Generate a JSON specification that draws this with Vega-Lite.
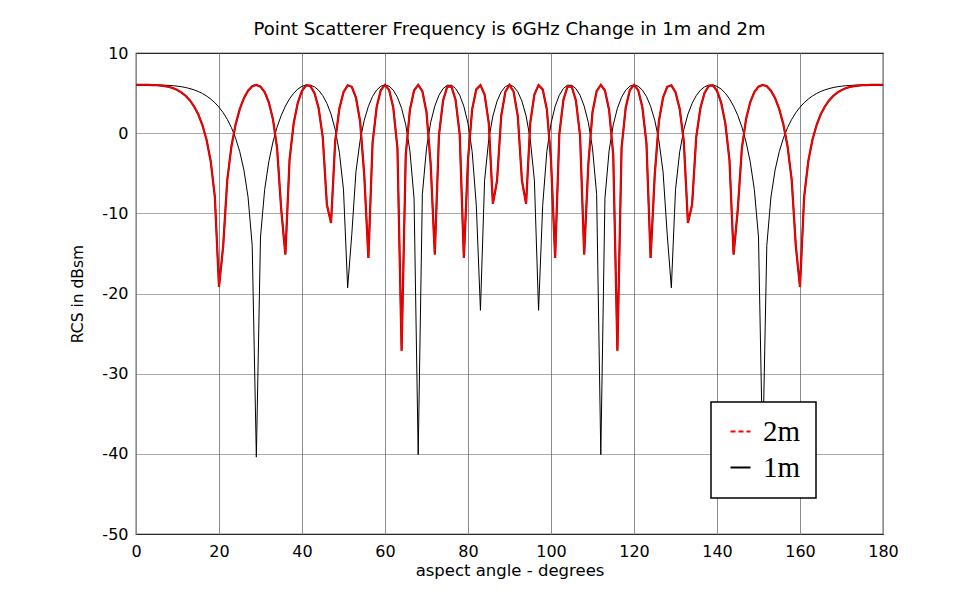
{
  "$schema": "https://vega.github.io/schema/vega-lite/v6.json",
  "width": 747,
  "height": 481,
  "autosize": {"type": "none"},
  "padding": {"left": 136, "top": 53, "right": 78, "bottom": 68},
  "background": "#ffffff",
  "title": {"text": "Point Scatterer Frequency is 6GHz Change in 1m and 2m", "frame": "group", "font": "DejaVu Sans", "fontSize": 18, "fontWeight": "normal", "color": "#000000", "anchor": "middle", "offset": 6},
  "config": {
    "view": {"stroke": "#000000", "strokeWidth": 1.2},
    "font": "DejaVu Sans",
    "axis": {"labelFont": "DejaVu Sans", "titleFont": "DejaVu Sans", "labelColor": "#000000", "titleColor": "#000000", "titleFontWeight": "normal", "ticks": false, "tickSize": 0, "domain": false, "grid": true, "labelFlush": false, "labelOverlap": false}
  },
  "datasets": {
    "rcs": [
      {"a":0,"m1":6.02,"m2":6.02},{"a":1,"m1":6.02,"m2":6.02},{"a":2,"m1":6.02,"m2":6.02},{"a":3,"m1":6.02,"m2":6.02},{"a":4,"m1":6.01,"m2":6.00},
      {"a":5,"m1":6.01,"m2":5.98},{"a":6,"m1":6.00,"m2":5.94},{"a":7,"m1":5.98,"m2":5.87},{"a":8,"m1":5.95,"m2":5.76},{"a":9,"m1":5.92,"m2":5.60},
      {"a":10,"m1":5.86,"m2":5.37},{"a":11,"m1":5.79,"m2":5.06},{"a":12,"m1":5.69,"m2":4.64},{"a":13,"m1":5.56,"m2":4.08},{"a":14,"m1":5.40,"m2":3.33},
      {"a":15,"m1":5.20,"m2":2.35},{"a":16,"m1":4.95,"m2":1.02},{"a":17,"m1":4.64,"m2":-0.82},{"a":18,"m1":4.26,"m2":-3.50},{"a":19,"m1":3.80,"m2":-7.94},
      {"a":20,"m1":3.24,"m2":-19.18},{"a":21,"m1":2.56,"m2":-14.12},{"a":22,"m1":1.72,"m2":-5.81},{"a":23,"m1":0.69,"m2":-1.63},{"a":24,"m1":-0.62,"m2":1.08},
      {"a":25,"m1":-2.31,"m2":3.00},{"a":26,"m1":-4.59,"m2":4.37},{"a":27,"m1":-7.97,"m2":5.30},{"a":28,"m1":-14.01,"m2":5.85},{"a":29,"m1":-40.41,"m2":6.02},
      {"a":30,"m1":-12.95,"m2":5.80},{"a":31,"m1":-7.05,"m2":5.12},{"a":32,"m1":-3.55,"m2":3.86},{"a":33,"m1":-1.10,"m2":1.75},{"a":34,"m1":0.77,"m2":-1.86},
      {"a":35,"m1":2.22,"m2":-9.56},{"a":36,"m1":3.37,"m2":-15.14},{"a":37,"m1":4.29,"m2":-3.32},{"a":38,"m1":4.99,"m2":1.25},{"a":39,"m1":5.50,"m2":3.82},
      {"a":40,"m1":5.84,"m2":5.29},{"a":41,"m1":6.01,"m2":5.96},{"a":42,"m1":5.99,"m2":5.89},{"a":43,"m1":5.78,"m2":5.03},{"a":44,"m1":5.36,"m2":3.14},
      {"a":45,"m1":4.69,"m2":-0.48},{"a":46,"m1":3.72,"m2":-8.92},{"a":47,"m1":2.37,"m2":-11.20},{"a":48,"m1":0.45,"m2":-1.00},{"a":49,"m1":-2.37,"m2":3.05},
      {"a":50,"m1":-7.07,"m2":5.12},{"a":51,"m1":-19.29,"m2":5.97},{"a":52,"m1":-12.60,"m2":5.78},{"a":53,"m1":-4.82,"m2":4.45},{"a":54,"m1":-0.90,"m2":1.49},
      {"a":55,"m1":1.61,"m2":-5.20},{"a":56,"m1":3.35,"m2":-15.58},{"a":57,"m1":4.58,"m2":-1.23},{"a":58,"m1":5.39,"m2":3.29},{"a":59,"m1":5.86,"m2":5.38},
      {"a":60,"m1":6.02,"m2":6.02},{"a":61,"m1":5.86,"m2":5.37},{"a":62,"m1":5.37,"m2":3.17},{"a":63,"m1":4.48,"m2":-1.88},{"a":64,"m1":3.11,"m2":-27.14},
      {"a":65,"m1":1.04,"m2":-2.72},{"a":66,"m1":-2.19,"m2":2.90},{"a":67,"m1":-8.12,"m2":5.32},{"a":68,"m1":-40.10,"m2":6.02},{"a":69,"m1":-7.64,"m2":5.24},
      {"a":70,"m1":-1.88,"m2":2.62},{"a":71,"m1":1.32,"m2":-3.81},{"a":72,"m1":3.37,"m2":-15.14},{"a":73,"m1":4.73,"m2":-0.27},{"a":74,"m1":5.56,"m2":4.08},
      {"a":75,"m1":5.97,"m2":5.80},{"a":76,"m1":5.98,"m2":5.84},{"a":77,"m1":5.58,"m2":4.17},{"a":78,"m1":4.74,"m2":-0.16},{"a":79,"m1":3.35,"m2":-15.58},
      {"a":80,"m1":1.20,"m2":-3.32},{"a":81,"m1":-2.28,"m2":2.97},{"a":82,"m1":-9.01,"m2":5.46},{"a":83,"m1":-22.10,"m2":5.99},{"a":84,"m1":-5.87,"m2":4.82},
      {"a":85,"m1":-0.77,"m2":1.30},{"a":86,"m1":2.14,"m2":-8.82},{"a":87,"m1":3.99,"m2":-5.93},{"a":88,"m1":5.16,"m2":2.14},{"a":89,"m1":5.81,"m2":5.16},
      {"a":90,"m1":6.02,"m2":6.02},
      {"a":91,"m1":5.81,"m2":5.16},{"a":92,"m1":5.16,"m2":2.14},{"a":93,"m1":3.99,"m2":-5.93},{"a":94,"m1":2.14,"m2":-8.82},{"a":95,"m1":-0.77,"m2":1.30},
      {"a":96,"m1":-5.87,"m2":4.82},{"a":97,"m1":-22.10,"m2":5.99},{"a":98,"m1":-9.01,"m2":5.46},{"a":99,"m1":-2.28,"m2":2.97},{"a":100,"m1":1.20,"m2":-3.32},
      {"a":101,"m1":3.35,"m2":-15.58},{"a":102,"m1":4.74,"m2":-0.16},{"a":103,"m1":5.58,"m2":4.17},{"a":104,"m1":5.98,"m2":5.84},{"a":105,"m1":5.97,"m2":5.80},
      {"a":106,"m1":5.56,"m2":4.08},{"a":107,"m1":4.73,"m2":-0.27},{"a":108,"m1":3.37,"m2":-15.14},{"a":109,"m1":1.32,"m2":-3.81},{"a":110,"m1":-1.88,"m2":2.62},
      {"a":111,"m1":-7.64,"m2":5.24},{"a":112,"m1":-40.10,"m2":6.02},{"a":113,"m1":-8.12,"m2":5.32},{"a":114,"m1":-2.19,"m2":2.90},{"a":115,"m1":1.04,"m2":-2.72},
      {"a":116,"m1":3.11,"m2":-27.14},{"a":117,"m1":4.48,"m2":-1.88},{"a":118,"m1":5.37,"m2":3.17},{"a":119,"m1":5.86,"m2":5.37},{"a":120,"m1":6.02,"m2":6.02},
      {"a":121,"m1":5.86,"m2":5.38},{"a":122,"m1":5.39,"m2":3.29},{"a":123,"m1":4.58,"m2":-1.23},{"a":124,"m1":3.35,"m2":-15.58},{"a":125,"m1":1.61,"m2":-5.20},
      {"a":126,"m1":-0.90,"m2":1.49},{"a":127,"m1":-4.82,"m2":4.45},{"a":128,"m1":-12.60,"m2":5.78},{"a":129,"m1":-19.29,"m2":5.97},{"a":130,"m1":-7.07,"m2":5.12},
      {"a":131,"m1":-2.37,"m2":3.05},{"a":132,"m1":0.45,"m2":-1.00},{"a":133,"m1":2.37,"m2":-11.20},{"a":134,"m1":3.72,"m2":-8.92},{"a":135,"m1":4.69,"m2":-0.48},
      {"a":136,"m1":5.36,"m2":3.14},{"a":137,"m1":5.78,"m2":5.03},{"a":138,"m1":5.99,"m2":5.89},{"a":139,"m1":6.01,"m2":5.96},{"a":140,"m1":5.84,"m2":5.29},
      {"a":141,"m1":5.50,"m2":3.82},{"a":142,"m1":4.99,"m2":1.25},{"a":143,"m1":4.29,"m2":-3.32},{"a":144,"m1":3.37,"m2":-15.14},{"a":145,"m1":2.22,"m2":-9.56},
      {"a":146,"m1":0.77,"m2":-1.86},{"a":147,"m1":-1.10,"m2":1.75},{"a":148,"m1":-3.55,"m2":3.86},{"a":149,"m1":-7.05,"m2":5.12},{"a":150,"m1":-12.95,"m2":5.80},
      {"a":151,"m1":-40.41,"m2":6.02},{"a":152,"m1":-14.01,"m2":5.85},{"a":153,"m1":-7.97,"m2":5.30},{"a":154,"m1":-4.59,"m2":4.37},{"a":155,"m1":-2.31,"m2":3.00},
      {"a":156,"m1":-0.62,"m2":1.08},{"a":157,"m1":0.69,"m2":-1.63},{"a":158,"m1":1.72,"m2":-5.81},{"a":159,"m1":2.56,"m2":-14.12},{"a":160,"m1":3.24,"m2":-19.18},
      {"a":161,"m1":3.80,"m2":-7.94},{"a":162,"m1":4.26,"m2":-3.50},{"a":163,"m1":4.64,"m2":-0.82},{"a":164,"m1":4.95,"m2":1.02},{"a":165,"m1":5.20,"m2":2.35},
      {"a":166,"m1":5.40,"m2":3.33},{"a":167,"m1":5.56,"m2":4.08},{"a":168,"m1":5.69,"m2":4.64},{"a":169,"m1":5.79,"m2":5.06},{"a":170,"m1":5.86,"m2":5.37},
      {"a":171,"m1":5.92,"m2":5.60},{"a":172,"m1":5.95,"m2":5.76},{"a":173,"m1":5.98,"m2":5.87},{"a":174,"m1":6.00,"m2":5.94},{"a":175,"m1":6.01,"m2":5.98},
      {"a":176,"m1":6.01,"m2":6.00},{"a":177,"m1":6.02,"m2":6.02},{"a":178,"m1":6.02,"m2":6.02},{"a":179,"m1":6.02,"m2":6.02},{"a":180,"m1":6.02,"m2":6.02}
    ]
  },
  "data": {"name": "rcs"},
  "encoding": {
    "x": {"field": "a", "type": "quantitative", "title": "aspect angle - degrees",
      "scale": {"domain": [0, 180], "nice": false, "zero": false},
      "axis": {"values": [0,20,40,60,80,100,120,140,160,180], "labelFontSize": 16, "titleFontSize": 16.5, "labelPadding": 9, "titlePadding": 3, "gridColor": "#8c8c8c", "gridWidth": 1, "gridOpacity": 1}}
  },
  "layer": [
    {
      "data": {"values": [{}]},
      "mark": {"type": "rect", "fill": "transparent", "stroke": "#000000", "strokeWidth": 2, "clip": false},
      "encoding": {
        "x": {"datum": -31.3, "type": "quantitative", "title": "aspect angle - degrees"},
        "x2": {"datum": 195.2},
        "y": {"datum": 15.86, "type": "quantitative", "title": "RCS in dBsm"},
        "y2": {"datum": -57.98}
      }
    },
    {
      "mark": {"type": "line", "strokeWidth": 1, "interpolate": "linear"},
      "encoding": {
        "y": {"field": "m1", "type": "quantitative", "title": "RCS in dBsm",
          "scale": {"domain": [-50, 10], "nice": false, "zero": false},
          "axis": {"values": [-50,-40,-30,-20,-10,0,10], "labelExpr": "'' + datum.value", "labelFontSize": 16, "titleFontSize": 15.5, "labelPadding": 8, "titlePadding": 16, "gridColor": "#555555", "gridDash": [1, 1], "gridWidth": 1, "gridOpacity": 1}},
        "color": {"datum": "1m", "type": "nominal",
          "scale": {"domain": ["2m", "1m"], "range": ["#ff0000", "#000000"]},
          "legend": {"orient": "none", "legendX": 575, "legendY": 349, "title": null, "strokeColor": "#000000", "fillColor": "#ffffff", "padding": 15, "symbolType": "stroke", "symbolSize": 400, "symbolStrokeWidth": 2, "labelFont": "Liberation Serif", "labelFontSize": 29, "labelColor": "#000000", "labelOffset": 8, "rowPadding": 6,
            "encode": {"legend": {"update": {"strokeWidth": {"value": 1.5}}}, "symbols": {"update": {"strokeDash": {"signal": "datum.value === '2m' ? [5, 3] : [20, 0]"}}}}}}
      }
    },
    {
      "mark": {"type": "line", "strokeWidth": 2.2, "color": "#990000", "interpolate": "linear"},
      "encoding": {
        "y": {"field": "m2", "type": "quantitative", "title": "RCS in dBsm"}
      }
    },
    {
      "mark": {"type": "line", "strokeWidth": 1.4, "interpolate": "linear"},
      "encoding": {
        "y": {"field": "m2", "type": "quantitative", "title": "RCS in dBsm"},
        "color": {"datum": "2m", "type": "nominal",
          "scale": {"domain": ["2m", "1m"], "range": ["#ff0000", "#000000"]},
          "legend": {"orient": "none", "legendX": 575, "legendY": 349, "title": null, "strokeColor": "#000000", "fillColor": "#ffffff", "padding": 15, "symbolType": "stroke", "symbolSize": 400, "symbolStrokeWidth": 2, "labelFont": "Liberation Serif", "labelFontSize": 29, "labelColor": "#000000", "labelOffset": 8, "rowPadding": 6,
            "encode": {"legend": {"update": {"strokeWidth": {"value": 1.5}}}, "symbols": {"update": {"strokeDash": {"signal": "datum.value === '2m' ? [5, 3] : [20, 0]"}}}}}}
      }
    }
  ]
}
